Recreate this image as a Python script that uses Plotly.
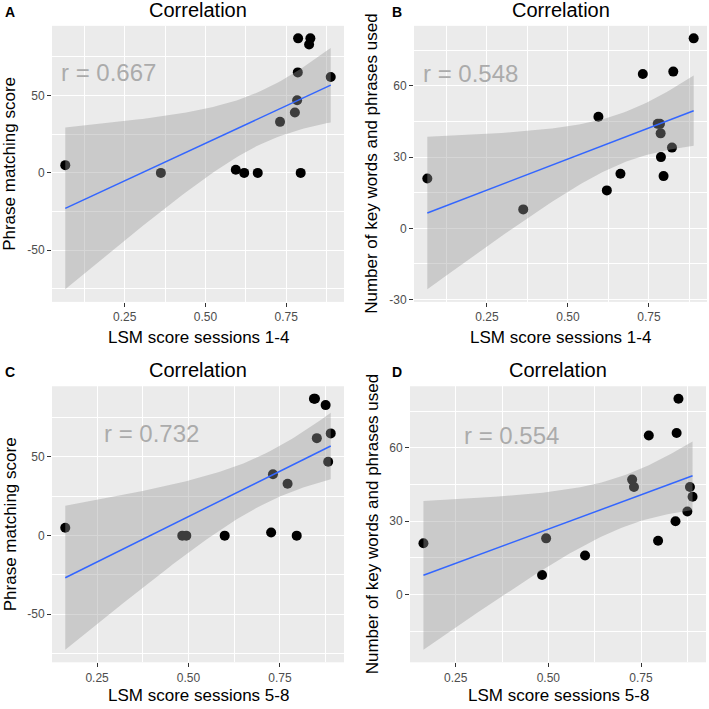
import numpy as np
import plotly.graph_objects as go

# ---------------- data ----------------
lsm_s1_4 = [0.066, 0.362, 0.594, 0.620, 0.662, 0.731, 0.777, 0.784, 0.786, 0.787, 0.795, 0.821, 0.825, 0.888]
phrase_s1_4 = [5, 0, 2, 0, 0, 33, 39, 47, 65, 87, 0, 83, 87, 62]
keywords_s1_4 = [21, 8, 47, 16, 23, 65, 44, 44, 40, 30, 22, 34, 66, 80]

lsm_s5_8 = [0.163, 0.483, 0.494, 0.599, 0.726, 0.731, 0.771, 0.796, 0.843, 0.846, 0.851, 0.875, 0.882, 0.889]
phrase_s5_8 = [5, 0, 0, 0, 2, 39, 33, 0, 87, 87, 62, 83, 47, 65]
keywords_s5_8 = [21, 8, 23, 16, 47, 44, 65, 22, 30, 66, 80, 34, 44, 40]

panel_letters = ["A", "B", "C", "D"]
panel_title = "Correlation"
r_labels = ["r = 0.667", "r = 0.548", "r = 0.732", "r = 0.554"]
r_label_pos = [(0.2, 65), (0.2, 65), (0.4, 65), (0.4, 65)]
x_titles = ["LSM score sessions 1-4", "LSM score sessions 1-4",
            "LSM score sessions 5-8", "LSM score sessions 5-8"]
y_titles = ["Phrase matching score", "Number of key words and phrases used",
            "Phrase matching score", "Number of key words and phrases used"]

x_tick_vals = [0.25, 0.50, 0.75]
x_tick_text = ["0.25", "0.50", "0.75"]
x_minor_vals = [0.125, 0.375, 0.625, 0.875]
y_phrase_ticks = [-50, 0, 50]
y_phrase_text = ["-50", "0", "50"]
y_phrase_minor = [-75, -25, 25, 75]
y_kw_ticks_B = [-30, 0, 30, 60]
y_kw_text_B = ["-30", "0", "30", "60"]
y_kw_ticks_D = [0, 30, 60]
y_kw_text_D = ["0", "30", "60"]
y_kw_minor = [-15, 15, 45, 75]

T975_DF12 = 2.1788  # t quantile (0.975, df = 12) for the 95% CI of lm

# ---------------- helpers ----------------
W = H = 709
FONT = "Liberation Sans, Arial, Helvetica, sans-serif"


def lm_band(x, y, n=80):
    x = np.asarray(x, float)
    y = np.asarray(y, float)
    b1, b0 = np.polyfit(x, y, 1)
    xs = np.linspace(x.min(), x.max(), n)
    fit = b0 + b1 * xs
    resid = y - (b0 + b1 * x)
    s = np.sqrt((resid ** 2).sum() / (len(x) - 2))
    se = s * np.sqrt(1 / len(x) + (xs - x.mean()) ** 2 / ((x - x.mean()) ** 2).sum())
    return xs, fit, fit - T975_DF12 * se, fit + T975_DF12 * se


def expand(lo, hi, f=0.05):
    d = (hi - lo) * f
    return [lo - d, hi + d]


# pixel boxes of the four panels: (left, right, top, bottom)
boxes = [(52, 344, 26, 304), (414, 707, 26, 304), (52, 344, 389, 667), (410, 706, 389, 667)]
x_title_offsets = [36, 36, 33, 33]

panels = [
    (lsm_s1_4, phrase_s1_4, y_phrase_ticks, y_phrase_text, y_phrase_minor),
    (lsm_s1_4, keywords_s1_4, y_kw_ticks_B, y_kw_text_B, y_kw_minor),
    (lsm_s5_8, phrase_s5_8, y_phrase_ticks, y_phrase_text, y_phrase_minor),
    (lsm_s5_8, keywords_s5_8, y_kw_ticks_D, y_kw_text_D, y_kw_minor),
]

fig = go.Figure()
annotations = []
layout_axes = {}

for i, ((xv, yv, yt, ytt, ymin), box) in enumerate(zip(panels, boxes)):
    k = "" if i == 0 else str(i + 1)
    xa, ya = "x" + k, "y" + k
    l, r, t, b = box
    xs, fit, lo, hi = lm_band(xv, yv)

    # points first (ribbon drawn over them, like ggplot)
    fig.add_trace(go.Scatter(x=xv, y=yv, mode="markers", xaxis=xa, yaxis=ya,
                             marker=dict(size=10, color="black"), hoverinfo="x+y"))
    fig.add_trace(go.Scatter(x=np.concatenate([xs, xs[::-1]]),
                             y=np.concatenate([hi, lo[::-1]]),
                             mode="lines", fill="toself", xaxis=xa, yaxis=ya,
                             fillcolor="rgba(153,153,153,0.4)", line=dict(width=0),
                             hoverinfo="skip"))
    fig.add_trace(go.Scatter(x=xs, y=fit, mode="lines", xaxis=xa, yaxis=ya,
                             line=dict(color="#3366FF", width=1.5), hoverinfo="skip"))

    xr = expand(min(xv), max(xv))
    yr = expand(min(min(yv), lo.min()), max(max(yv), hi.max()))

    common = dict(showgrid=True, gridcolor="white", gridwidth=1.1, zeroline=False,
                  showline=False, ticks="outside", ticklen=4, tickwidth=1,
                  tickcolor="#333333", tickfont=dict(size=12, color="#4D4D4D", family=FONT))
    layout_axes["xaxis" + k] = dict(common, domain=[l / W, r / W], range=xr, anchor=ya,
                                    tickvals=x_tick_vals, ticktext=x_tick_text,
                                    minor=dict(tickvals=x_minor_vals, showgrid=True,
                                               gridcolor="white", gridwidth=0.5, ticks=""))
    layout_axes["yaxis" + k] = dict(common, domain=[1 - b / H, 1 - t / H], range=yr, anchor=xa,
                                    tickvals=yt, ticktext=ytt,
                                    minor=dict(tickvals=ymin, showgrid=True,
                                               gridcolor="white", gridwidth=0.5, ticks=""))

    cx = (l + r) / 2 / W
    # title
    annotations.append(dict(text=panel_title, xref="paper", yref="paper", x=cx,
                            y=1 - (t - 16) / H, xanchor="center", yanchor="middle",
                            showarrow=False, font=dict(size=20, color="black", family=FONT)))
    # panel letter
    lx = 10 if i % 2 == 0 else 397
    annotations.append(dict(text="<b>%s</b>" % panel_letters[i], xref="paper", yref="paper",
                            x=lx / W, y=1 - (t - 14) / H, xanchor="center", yanchor="middle",
                            showarrow=False, font=dict(size=14, color="black", family=FONT)))
    # x-axis title
    annotations.append(dict(text=x_titles[i], xref="paper", yref="paper", x=cx,
                            y=1 - (b + x_title_offsets[i]) / H, xanchor="center", yanchor="middle",
                            showarrow=False, font=dict(size=17, color="black", family=FONT)))
    # y-axis title
    ytx = 10 if i % 2 == 0 else 372
    annotations.append(dict(text=y_titles[i], xref="paper", yref="paper", x=ytx / W,
                            y=1 - (t + b) / 2 / H, xanchor="center", yanchor="middle",
                            textangle=-90, showarrow=False,
                            font=dict(size=17, color="black", family=FONT)))
    # r label
    rx, ry = r_label_pos[i]
    annotations.append(dict(text=r_labels[i], xref=xa, yref=ya, x=rx, y=ry,
                            xanchor="center", yanchor="middle", showarrow=False,
                            font=dict(size=24, color="#ABABAB", family=FONT)))

fig.update_layout(width=W, height=H, margin=dict(l=0, r=0, t=0, b=0),
                  paper_bgcolor="white", plot_bgcolor="#EBEBEB", showlegend=False,
                  annotations=annotations, font=dict(family=FONT), **layout_axes)

fig.write_html("out.html", config={"displayModeBar": False},
               post_script="document.body.style.margin='0px';document.body.style.overflow='hidden';")
